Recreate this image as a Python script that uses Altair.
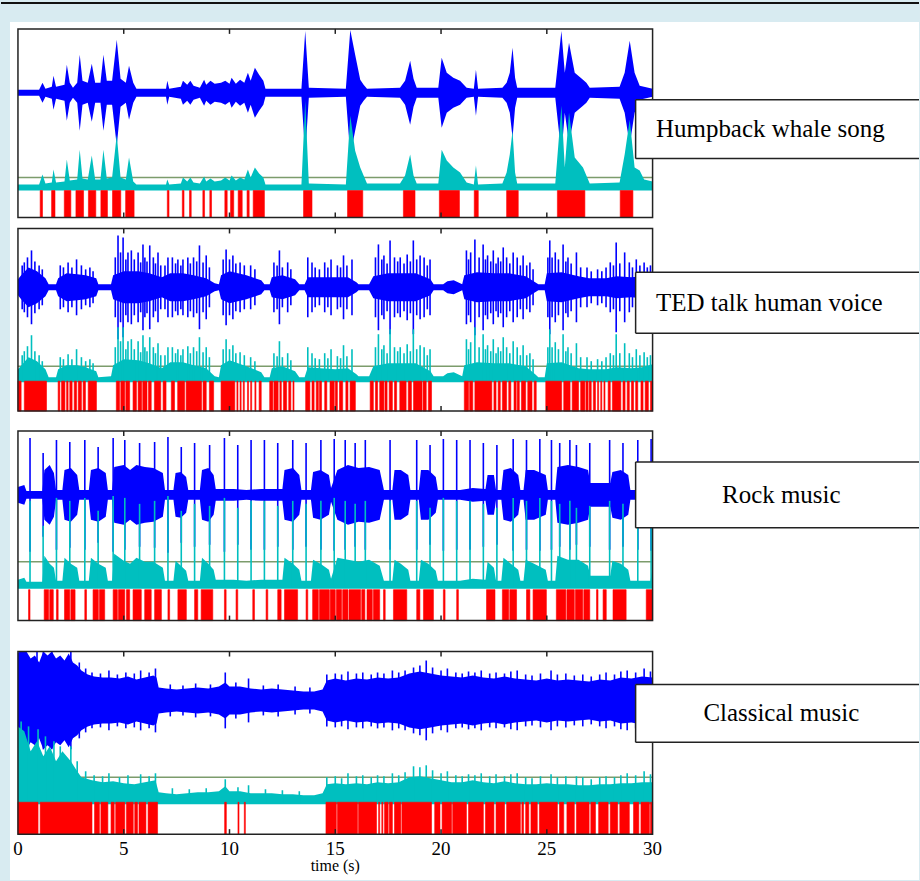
import altair as alt
import pandas as pd

# ---------------- data ----------------
TIME_TICKS = [0, 5, 10, 15, 20, 25, 30]
X_TITLE = "time (s)"
LABELS = ["Humpback whale song", "TED talk human voice", "Rock music", "Classical music"]

# each waveform: [time s, half amplitude]; envelope: [time s, height]; onsets: [start s, end s]
WHALE_WAVE = [[0,3],[1.0,3],[1.16,10],[1.3,4],[1.6,6],[1.68,17],[1.8,6],[2.2,8],[2.31,28],[2.45,10],[2.6,5],[2.8,10],[2.92,38],[3.05,12],[3.3,10],[3.49,29],[3.65,10],[3.9,10],[4.04,38],[4.2,12],[4.45,12],[4.67,53],[4.85,14],[5.1,10],[5.25,27],[5.45,10],[5.6,4],[7.0,4],[7.06,12],[7.15,4],[7.7,6],[7.8,12],[8.0,8],[8.15,12],[8.3,7],[8.6,5],[8.8,13],[8.9,8],[9.1,12],[9.3,9],[9.6,10],[9.8,12],[10.0,9],[10.1,15],[10.3,9],[10.5,13],[10.7,10],[10.87,20],[11.0,12],[11.2,25],[11.4,18],[11.6,12],[11.7,4],[13.4,4],[13.58,62],[13.75,5],[15.5,4],[15.71,63],[15.94,38],[16.18,13],[16.34,8],[16.5,4],[18.06,5],[18.3,12],[18.54,32],[18.7,14],[18.85,5],[19.87,5],[20.03,35],[20.27,20],[20.58,15],[20.9,12],[21.21,5],[21.55,4],[21.65,23],[21.75,4],[22.9,5],[23.1,10],[23.25,20],[23.38,45],[23.5,15],[23.6,5],[25.4,5],[25.69,62],[25.85,20],[26.05,50],[26.32,20],[26.71,13],[26.87,10],[27.03,5],[28.44,6],[28.68,20],[28.92,52],[29.15,20],[29.39,7],[30,4]]
WHALE_ENV = [[0,3],[1.0,3],[1.16,13],[1.3,4],[1.6,5],[1.68,18],[1.8,5],[2.2,6],[2.31,28],[2.45,7],[2.8,8],[2.92,38],[3.05,9],[3.3,8],[3.49,32],[3.65,8],[3.9,8],[4.04,38],[4.2,9],[4.45,10],[4.67,53],[4.85,10],[5.1,8],[5.25,30],[5.45,6],[5.6,3],[7.0,3],[7.06,8],[7.15,3],[7.7,4],[7.8,10],[8.0,6],[8.15,10],[8.3,5],[8.6,4],[8.8,11],[8.9,6],[9.1,9],[9.3,6],[9.6,7],[9.8,10],[10.0,7],[10.1,12],[10.3,7],[10.5,10],[10.7,8],[10.87,18],[11.0,10],[11.2,20],[11.4,14],[11.6,10],[11.7,3],[13.4,3],[13.58,87],[13.75,4],[15.5,3],[15.71,72],[15.94,37],[16.18,20],[16.34,12],[16.5,4],[18.06,4],[18.3,12],[18.54,33],[18.7,12],[18.85,4],[19.87,4],[20.03,38],[20.27,27],[20.58,20],[20.9,15],[21.21,5],[21.55,3],[21.65,22],[21.75,3],[22.9,4],[23.1,15],[23.25,33],[23.38,57],[23.5,15],[23.6,4],[25.4,4],[25.69,82],[25.85,20],[26.05,75],[26.32,30],[26.71,20],[26.87,12],[27.03,4],[28.44,5],[28.68,33],[28.92,68],[29.15,20],[29.39,17],[29.6,8],[30,6]]
WHALE_WAVE_SPIKES = []
WHALE_ENV_SPIKES = []
WHALE_ON = [[1.05,1.16],[1.59,1.75],[2.19,2.5],[2.74,3.1],[3.33,3.68],[3.92,4.23],[4.47,4.86],[5.09,5.49],[7.06,7.14],[7.77,7.85],[8.11,8.19],[8.74,8.82],[9.07,9.15],[9.78,9.89],[10.05,10.2],[10.41,10.6],[10.83,10.93],[11.12,11.65],[13.5,13.9],[15.58,16.3],[18.22,18.77],[19.92,20.87],[21.57,21.76],[23.1,23.65],[25.5,26.8],[28.47,29.07]]

TED_WAVE = [[0,8],[0.15,12],[0.5,20],[0.9,16],[1.3,9],[1.45,3],[1.8,3],[1.9,9],[2.3,14],[2.8,13],[3.2,12],[3.7,9],[3.8,3],[4.4,3],[4.5,12],[5.0,16],[5.7,16],[6.2,14],[6.8,10],[7.2,14],[7.8,14],[8.3,12],[8.9,9],[9.3,4],[9.5,3],[9.6,12],[10.0,16],[10.8,12],[11.5,7],[11.65,3],[11.9,3],[12.0,10],[12.5,12],[13.1,8],[13.3,3],[13.55,3],[13.7,10],[14.3,10],[15.0,10],[15.6,10],[16.0,5],[16.1,3],[16.6,3],[16.8,11],[17.5,14],[18.2,14],[18.8,14],[19.5,8],[19.65,3],[20.1,3],[20.3,6],[20.6,7],[20.9,4],[21.0,3],[21.1,12],[21.7,15],[22.5,14],[23.2,14],[24.0,11],[24.45,5],[24.6,3],[24.9,3],[25.0,14],[25.7,15],[26.5,11],[27.0,9],[27.8,9],[28.3,11],[29.0,10],[29.5,11],[30,11]]
TED_ENV = [[0,10],[0.5,22],[0.9,18],[1.3,10],[1.45,2],[1.8,2],[1.9,10],[2.3,14],[2.8,14],[3.2,12],[3.7,8],[3.8,2],[4.4,3],[4.5,14],[5.0,20],[5.7,19],[6.2,16],[6.8,11],[7.2,17],[7.8,17],[8.3,14],[8.9,11],[9.3,3],[9.5,2],[9.6,14],[10.0,19],[10.8,13],[11.5,7],[11.65,2],[11.9,2],[12.0,11],[12.5,13],[13.1,8],[13.3,2],[13.55,2],[13.7,12],[14.3,11],[15.0,10],[15.6,11],[16.0,5],[16.1,3],[16.6,3],[16.8,13],[17.5,16],[18.2,16],[18.8,16],[19.5,8],[19.65,3],[20.1,3],[20.3,6],[20.6,7],[20.9,4],[21.0,3],[21.1,14],[21.7,17],[22.5,16],[23.2,16],[24.0,13],[24.45,5],[24.6,2],[24.9,2],[25.0,16],[25.7,17],[26.5,11],[27.0,10],[27.8,10],[28.3,12],[29.0,11],[29.5,12],[30,15]]
TED_WAVE_SPIKES = [[0.2,22],[0.3,25],[0.45,30],[0.64,37],[0.8,26],[1.0,22],[1.15,18],[2.0,22],[2.15,20],[2.37,25],[2.55,20],[2.77,28],[3.0,22],[3.2,18],[3.4,20],[3.55,16],[4.6,30],[4.73,52],[4.85,35],[4.97,50],[5.1,28],[5.2,35],[5.36,37],[5.5,28],[5.68,35],[5.8,25],[5.91,43],[6.0,30],[6.1,26],[6.23,42],[6.4,30],[6.5,24],[6.62,35],[6.75,22],[6.95,22],[7.09,30],[7.3,30],[7.45,24],[7.56,28],[7.7,22],[7.8,28],[8.03,30],[8.15,24],[8.3,30],[8.45,26],[8.58,42],[8.75,25],[8.9,32],[9.05,20],[9.7,28],[9.84,38],[10.0,28],[10.16,32],[10.3,24],[10.5,25],[10.7,22],[11.0,22],[11.2,18],[12.1,25],[12.25,22],[12.36,37],[12.5,20],[12.75,25],[12.9,18],[13.7,30],[13.9,25],[14.05,20],[14.25,18],[14.5,25],[14.65,20],[14.8,28],[15.1,22],[15.25,20],[15.39,32],[15.55,22],[15.79,28],[16.9,30],[17.04,43],[17.2,28],[17.3,32],[17.45,24],[17.59,47],[17.8,30],[17.95,26],[18.07,30],[18.25,24],[18.4,33],[18.55,26],[18.69,47],[18.85,28],[19.01,32],[19.2,30],[19.35,22],[19.48,28],[21.2,37],[21.3,28],[21.4,35],[21.6,48],[21.8,30],[21.99,43],[22.1,28],[22.2,32],[22.35,26],[22.47,37],[22.6,24],[22.7,30],[22.82,26],[22.94,40],[23.1,30],[23.25,24],[23.41,35],[23.6,30],[23.75,22],[23.88,32],[24.05,22],[24.2,25],[24.35,18],[25.05,30],[25.14,47],[25.25,30],[25.4,35],[25.55,28],[25.77,43],[25.9,26],[26.0,30],[26.15,24],[26.4,35],[26.6,20],[26.9,20],[27.1,16],[27.4,18],[27.6,16],[27.8,20],[28.0,25],[28.15,22],[28.28,45],[28.45,24],[28.68,35],[28.9,25],[29.05,20],[29.23,28],[29.4,22],[29.6,25],[29.75,20],[29.9,22]]
TED_ENV_SPIKES = [[0.2,24],[0.3,28],[0.45,33],[0.64,44],[0.8,28],[1.0,24],[1.15,18],[2.0,22],[2.15,20],[2.37,25],[2.55,20],[2.77,30],[3.0,22],[3.2,18],[3.4,20],[3.55,16],[4.6,32],[4.73,52],[4.85,38],[4.97,52],[5.1,30],[5.2,38],[5.36,40],[5.5,30],[5.68,38],[5.8,27],[5.91,44],[6.0,32],[6.1,28],[6.23,42],[6.4,32],[6.5,26],[6.62,36],[6.75,24],[6.95,24],[7.09,32],[7.3,32],[7.45,26],[7.56,30],[7.7,24],[7.8,30],[8.03,33],[8.15,26],[8.3,32],[8.45,28],[8.58,42],[8.75,27],[8.9,32],[9.05,22],[9.7,30],[9.84,40],[10.0,30],[10.16,34],[10.3,26],[10.5,27],[10.7,24],[11.0,22],[11.2,18],[12.1,26],[12.25,23],[12.36,38],[12.5,22],[12.75,26],[12.9,19],[13.7,32],[13.9,26],[14.05,21],[14.25,20],[14.5,26],[14.65,21],[14.8,30],[15.1,23],[15.25,21],[15.39,34],[15.55,23],[15.79,30],[16.9,32],[17.04,45],[17.2,30],[17.3,34],[17.45,26],[17.59,50],[17.8,32],[17.95,28],[18.07,32],[18.25,26],[18.4,35],[18.55,28],[18.69,50],[18.85,30],[19.01,34],[19.2,32],[19.35,24],[19.48,30],[21.2,40],[21.3,30],[21.4,37],[21.6,52],[21.8,32],[21.99,45],[22.1,30],[22.2,34],[22.35,28],[22.47,40],[22.6,26],[22.7,32],[22.82,28],[22.94,42],[23.1,32],[23.25,26],[23.41,38],[23.6,32],[23.75,24],[23.88,34],[24.05,24],[24.2,26],[24.35,20],[25.05,32],[25.14,50],[25.25,32],[25.4,37],[25.55,30],[25.77,45],[25.9,28],[26.0,32],[26.15,26],[26.4,36],[26.6,22],[26.9,22],[27.1,18],[27.4,20],[27.6,18],[27.8,22],[28.0,26],[28.15,24],[28.28,45],[28.45,26],[28.68,36],[28.9,26],[29.05,22],[29.23,30],[29.4,24],[29.6,27],[29.75,22],[29.9,24]]
TED_ON = [[0.0,0.15],[0.3,1.35],[1.9,1.98],[2.06,2.22],[2.3,2.37],[2.45,2.56],[2.66,2.77],[2.85,3.0],[3.08,3.19],[3.32,3.71],[4.65,4.8],[4.86,5.05],[5.1,5.28],[5.44,5.6],[5.68,5.85],[5.9,6.1],[6.17,6.3],[6.45,6.75],[6.86,7.0],[7.25,7.4],[7.55,7.88],[7.95,8.68],[8.75,8.9],[9.05,9.25],[9.6,10.25],[10.35,10.4],[10.5,10.55],[10.65,10.7],[10.85,10.9],[11.0,11.05],[11.2,11.25],[11.4,11.5],[11.9,12.05],[12.1,12.3],[12.38,12.45],[12.55,12.7],[12.8,12.9],[13.0,13.05],[13.6,13.8],[13.9,14.0],[14.1,14.2],[14.25,14.35],[14.5,14.6],[14.75,14.95],[15.0,15.1],[15.2,15.35],[15.5,15.6],[15.7,15.95],[16.65,16.8],[16.9,17.0],[17.1,17.3],[17.35,17.45],[17.55,17.7],[17.8,17.9],[18.05,18.35],[18.45,18.6],[18.7,19.1],[19.15,19.3],[19.4,19.55],[21.1,21.3],[21.35,21.5],[21.6,22.4],[22.5,22.6],[22.7,22.8],[22.9,23.1],[23.2,23.3],[23.45,23.55],[23.6,23.7],[23.8,24.0],[24.1,24.3],[24.4,24.5],[24.95,25.7],[25.8,26.1],[26.2,26.5],[26.6,26.8],[26.85,26.95],[27.0,27.1],[27.2,27.3],[27.4,27.45],[27.55,27.6],[27.7,27.75],[27.9,28.0],[28.1,28.5],[28.6,28.7],[28.8,28.9],[29.0,29.1],[29.2,29.3],[29.45,29.55],[29.65,29.8],[29.9,30.0]]

ROCK_WAVE = [[0,8],[0.3,10],[0.4,4],[1.15,4],[1.25,25],[1.5,30],[1.7,22],[1.8,5],[2.1,5],[2.2,25],[2.5,27],[2.8,20],[2.9,5],[3.35,5],[3.45,25],[3.8,27],[4.15,22],[4.25,5],[4.45,5],[4.55,28],[5.0,30],[5.3,25],[5.6,30],[6.0,28],[6.4,27],[6.85,22],[6.95,5],[7.35,5],[7.45,22],[7.7,23],[7.95,18],[8.05,5],[8.6,5],[8.7,25],[9.0,27],[9.25,20],[9.35,6],[10.2,6],[10.8,5],[11.5,6],[12.5,6],[12.6,25],[13.0,27],[13.3,20],[13.4,5],[13.85,5],[13.95,23],[14.3,25],[14.7,20],[14.8,7],[15.1,25],[15.6,30],[16.1,27],[16.6,28],[17.1,25],[17.3,5],[17.7,5],[17.8,25],[18.1,25],[18.45,20],[18.55,5],[18.95,5],[19.05,25],[19.4,25],[19.75,18],[19.85,5],[20.9,5],[21.5,7],[22.1,6],[22.2,20],[22.5,20],[22.6,5],[22.85,5],[22.95,25],[23.3,27],[23.65,20],[23.75,5],[23.9,5],[24.0,25],[24.4,25],[24.95,20],[25.05,5],[25.4,5],[25.5,28],[26.0,30],[26.5,28],[26.95,25],[27.05,12],[27.5,12],[28.0,12],[28.1,23],[28.5,25],[28.85,20],[28.95,5],[29.9,5],[30,8]]
ROCK_ENV = [[0,6],[0.3,8],[0.4,4],[1.15,4],[1.25,30],[1.5,22],[1.7,18],[1.8,5],[2.1,5],[2.2,28],[2.5,22],[2.8,18],[2.9,5],[3.35,5],[3.45,28],[3.8,22],[4.15,18],[4.25,5],[4.45,5],[4.55,32],[5.0,25],[5.3,22],[5.6,28],[6.0,24],[6.4,24],[6.85,18],[6.95,5],[7.35,5],[7.45,25],[7.7,20],[7.95,15],[8.05,5],[8.6,5],[8.7,28],[9.0,22],[9.25,16],[9.35,6],[10.2,6],[10.8,5],[11.5,6],[12.5,6],[12.6,28],[13.0,22],[13.3,16],[13.4,5],[13.85,5],[13.95,26],[14.3,22],[14.7,16],[14.8,7],[15.1,28],[15.6,26],[16.1,24],[16.6,26],[17.1,20],[17.3,5],[17.7,5],[17.8,26],[18.1,22],[18.45,16],[18.55,5],[18.95,5],[19.05,26],[19.4,22],[19.75,15],[19.85,5],[20.9,5],[21.5,7],[22.1,6],[22.2,24],[22.5,18],[22.6,5],[22.85,5],[22.95,28],[23.3,22],[23.65,16],[23.75,5],[23.9,5],[24.0,26],[24.4,22],[24.95,16],[25.05,5],[25.4,5],[25.5,30],[26.0,26],[26.5,26],[26.95,20],[27.05,10],[27.5,10],[28.0,10],[28.1,25],[28.5,22],[28.85,16],[28.95,5],[29.9,5],[30,18]]
ROCK_WAVE_SPIKES = [[0.57,57],[1.19,42],[1.82,55],[2.45,53],[3.16,55],[3.79,48],[4.5,57],[5.05,55],[5.75,52],[6.46,53],[7.09,58],[7.72,48],[8.35,52],[9.06,50],[9.76,57],[10.39,50],[11.02,55],[11.65,55],[12.28,52],[12.99,55],[13.62,52],[14.32,55],[14.95,56],[15.47,55],[15.94,52],[16.42,55],[17.59,55],[18.85,55],[19.48,50],[20.11,56],[20.74,55],[21.37,55],[22.0,52],[22.64,50],[23.41,56],[24.04,55],[24.67,56],[25.22,55],[25.61,52],[26.09,55],[26.4,50],[27.03,52],[27.97,55],[28.6,52],[29.3,55],[29.93,56]]
ROCK_ENV_SPIKES = [[0.57,85],[1.19,60],[1.82,88],[2.45,85],[3.16,88],[3.79,75],[4.5,90],[5.05,88],[5.75,82],[6.46,85],[7.09,90],[7.72,75],[8.35,82],[9.06,80],[9.76,88],[10.39,78],[11.02,85],[11.65,85],[12.28,80],[12.99,85],[13.62,82],[14.32,85],[14.95,88],[15.47,85],[15.94,82],[16.42,85],[17.59,85],[18.85,85],[19.48,78],[20.11,88],[20.74,85],[21.37,85],[22.0,82],[22.64,78],[23.41,88],[24.04,85],[24.67,88],[25.22,85],[25.61,82],[26.09,85],[26.4,78],[27.03,80],[27.97,85],[28.6,82],[29.3,85],[29.93,70]]
ROCK_ON = [[0.5,0.57],[1.24,1.45],[1.5,1.67],[1.82,1.9],[2.2,2.45],[2.5,2.7],[3.16,3.24],[3.55,3.8],[3.85,4.1],[4.5,4.7],[4.75,5.05],[5.13,5.28],[5.44,5.83],[5.99,6.3],[6.46,6.78],[7.09,7.17],[7.56,7.96],[8.35,8.5],[8.66,9.21],[9.76,9.84],[10.31,10.39],[11.1,11.18],[11.73,11.81],[12.28,12.44],[12.6,13.22],[13.62,13.7],[13.93,14.2],[14.25,14.72],[14.76,15.0],[15.05,15.3],[15.35,15.6],[15.65,16.2],[16.25,16.4],[16.5,16.75],[16.8,17.1],[17.28,17.36],[17.75,18.38],[18.85,19.0],[19.17,19.64],[20.11,20.19],[20.74,20.82],[22.15,22.55],[22.9,23.2],[23.25,23.57],[24.04,24.2],[24.35,24.98],[25.45,25.9],[25.95,26.3],[26.35,26.7],[26.75,27.03],[27.35,27.42],[27.66,27.81],[28.13,28.75],[29.7,30.0]]

CLASS_WAVE = [[0,48],[0.2,49],[0.4,49],[0.6,42],[0.8,45],[1.0,38],[1.2,49],[1.4,45],[1.6,49],[1.8,42],[2.0,45],[2.2,40],[2.4,47],[2.6,38],[2.8,35],[3.0,30],[3.3,26],[3.6,24],[4.0,23],[4.4,23],[4.8,22],[5.2,24],[5.6,21],[6.0,23],[6.4,25],[6.55,23],[6.65,13],[7.0,12],[7.5,11],[8.0,12],[8.5,13],[9.0,12],[9.5,14],[9.8,18],[10.0,14],[10.5,14],[11.0,12],[11.5,11],[12.0,12],[12.5,11],[13.0,10],[13.5,9],[14.0,9],[14.4,11],[14.6,20],[15.0,22],[15.5,20],[16.0,22],[16.5,21],[17.0,23],[17.5,22],[18.0,23],[18.5,27],[19.0,29],[19.5,27],[20.0,25],[20.5,24],[21.0,23],[21.5,25],[22.0,23],[22.5,22],[23.0,24],[23.5,22],[24.0,21],[24.5,20],[25.0,22],[25.5,20],[26.0,21],[26.5,20],[27.0,19],[27.5,21],[28.0,20],[28.5,23],[29.0,22],[29.5,24],[30,23]]
CLASS_ENV = [[0,75],[0.3,70],[0.6,50],[0.9,60],[1.2,45],[1.5,55],[1.8,40],[2.1,50],[2.5,40],[2.8,30],[3.0,24],[3.5,21],[4.0,19],[4.5,20],[5.0,18],[5.5,17],[6.0,19],[6.5,21],[6.65,9],[7.0,8],[7.5,7],[8.0,8],[8.5,9],[9.0,9],[9.5,10],[9.8,15],[10.0,10],[10.5,10],[11.0,8],[11.5,8],[12.0,8],[12.5,7],[13.0,7],[13.5,6],[14.0,6],[14.4,8],[14.6,17],[15.0,18],[15.5,17],[16.0,18],[16.5,17],[17.0,19],[17.5,18],[18.0,19],[18.5,24],[19.0,25],[19.5,23],[20.0,21],[20.5,19],[21.0,19],[21.5,21],[22.0,19],[22.5,18],[23.0,20],[23.5,18],[24.0,17],[24.5,17],[25.0,18],[25.5,17],[26.0,17],[26.5,16],[27.0,16],[27.5,17],[28.0,17],[28.5,18],[29.0,18],[29.5,19],[30,19]]
CLASS_WAVE_SPIKES = [[0.1,49],[0.3,49],[0.9,49],[1.2,49],[1.6,49],[2.5,49],[2.9,38],[3.2,32],[3.5,28],[3.9,27],[4.3,30],[4.7,26],[5.1,28],[5.5,27],[5.8,30],[6.2,28],[6.5,32],[7.2,16],[7.8,15],[8.4,17],[9.1,16],[9.8,28],[10.3,18],[10.9,22],[11.6,15],[12.3,16],[13.1,14],[13.8,13],[14.6,26],[15.0,27],[15.3,26],[15.6,29],[16.0,27],[16.3,28],[16.7,26],[17.0,28],[17.3,27],[17.7,30],[18.0,28],[18.3,30],[18.7,33],[19.0,35],[19.3,40],[19.6,33],[20.0,30],[20.3,32],[20.7,28],[21.0,27],[21.3,29],[21.6,28],[21.9,30],[22.3,27],[22.6,28],[23.0,27],[23.3,29],[23.6,30],[24.0,26],[24.3,25],[24.7,27],[25.2,30],[25.5,26],[25.9,27],[26.3,25],[26.7,26],[27.1,24],[27.5,26],[27.8,28],[28.2,26],[28.5,29],[28.8,30],[29.2,28],[29.6,32],[29.9,29]]
CLASS_ENV_SPIKES = [[0.15,80],[0.5,75],[0.95,72],[1.3,65],[1.7,60],[2.0,55],[2.5,55],[2.8,40],[3.2,30],[3.6,26],[4.0,25],[4.3,28],[4.8,24],[5.2,26],[5.8,27],[6.2,25],[6.5,28],[7.3,13],[8.1,12],[8.9,13],[9.8,22],[10.4,14],[10.9,16],[11.7,12],[12.5,11],[13.3,10],[14.6,24],[15.0,25],[15.3,23],[15.6,28],[16.0,25],[16.3,26],[16.7,24],[17.0,26],[17.3,25],[17.7,28],[18.0,26],[18.3,29],[18.7,35],[19.0,34],[19.3,36],[19.6,31],[20.0,28],[20.3,30],[20.7,26],[21.0,25],[21.3,27],[21.6,26],[21.9,28],[22.3,25],[22.6,27],[23.0,25],[23.3,27],[23.6,28],[24.0,24],[24.3,23],[24.7,25],[25.2,27],[25.5,24],[25.9,25],[26.4,25],[26.7,24],[27.1,22],[27.5,24],[27.8,25],[28.2,24],[28.5,26],[28.8,28],[29.2,26],[29.6,30],[29.9,27]]
CLASS_ON = [[0.0,0.95],[1.05,3.5],[3.62,3.85],[3.92,4.25],[4.4,4.55],[4.62,5.05],[5.13,5.45],[5.52,5.65],[5.72,6.05],[6.15,6.6],[9.77,9.85],[10.4,10.45],[10.7,10.75],[14.56,15.05],[15.1,16.05],[16.1,16.95],[17.05,17.1],[17.2,17.25],[17.33,17.5],[17.55,17.7],[17.8,18.1],[18.15,19.55],[19.7,19.95],[20.05,20.5],[20.55,21.2],[21.3,22.0],[22.1,22.5],[22.6,23.0],[23.1,23.75],[23.82,23.9],[24.0,24.15],[24.25,24.55],[24.65,25.5],[25.6,25.8],[25.95,26.3],[26.4,27.0],[27.08,27.3],[27.45,27.9],[28.0,28.35],[28.45,28.9],[29.1,29.35],[29.45,29.85],[29.9,30.0]]

SERIES = [
    (WHALE_WAVE, WHALE_ENV, WHALE_WAVE_SPIKES, WHALE_ENV_SPIKES, WHALE_ON),
    (TED_WAVE, TED_ENV, TED_WAVE_SPIKES, TED_ENV_SPIKES, TED_ON),
    (ROCK_WAVE, ROCK_ENV, ROCK_WAVE_SPIKES, ROCK_ENV_SPIKES, ROCK_ON),
    (CLASS_WAVE, CLASS_ENV, CLASS_WAVE_SPIKES, CLASS_ENV_SPIKES, CLASS_ON),
]

# ---------------- layout (pixel units from top of first panel) ----------------
H = 807
W = 636
LAYOUT = [
    dict(top=0,   h=189, c=125, b=30, g=40, r=27, box=(71, 130),  tx=754),
    dict(top=200, h=183, c=124, b=32, g=45, r=30, box=(44, 105),  tx=753),
    dict(top=403, h=190, c=126, b=35, g=59, r=31, box=(31, 97),   tx=765),
    dict(top=624, h=183, c=134, b=33, g=57, r=32, box=(33, 91),   tx=765),
]

BLUE = "#0000ff"
TEAL = "#00bfbf"
RED = "#ff0000"
GREEN = "#7c9c6c"
FRAME = "#222222"
SERIF = "Liberation Serif"

wave_rows, env_rows, wsp_rows, esp_rows, on_rows = [], [], [], [], []
frame_rows, tick_rows, box_rows = [], [], []
for i, ((wave, env, wsp, esp, on), L) in enumerate(zip(SERIES, LAYOUT)):
    bottom = L["top"] + L["h"]
    mid = bottom - L["c"]
    base = bottom - L["b"]
    for t, a in wave:
        wave_rows.append(dict(p=i, t=t, y1=mid - a, y2=mid + a))
    for t, v in env:
        env_rows.append(dict(p=i, t=t, y1=base - v, y2=base + 3))
    for t, a in wsp:
        wsp_rows.append(dict(p=i, t=t, y1=mid - a, y2=mid + a))
    for t, v in esp:
        esp_rows.append(dict(p=i, t=t, y1=base - v, y2=base + 2))
    for s, e in on:
        on_rows.append(dict(p=i, s=s, e=e, y1=bottom - L["r"], y2=bottom))
    frame_rows.append(dict(p=i, x0=TIME_TICKS[0], x1=TIME_TICKS[-1], y1=L["top"], y2=bottom,
                           g=bottom - L["g"]))
    for tk in TIME_TICKS[1:-1]:
        tick_rows.append(dict(p=i, t=tk, y1=L["top"], y2=L["top"] + 5))
        tick_rows.append(dict(p=i, t=tk, y1=bottom - 5, y2=bottom))
    box_rows.append(dict(p=i, label=LABELS[i], y1=L["top"] + L["box"][0], y2=L["top"] + L["box"][1],
                         yc=L["top"] + (L["box"][0] + L["box"][1]) / 2, tx=L["tx"]))

wave_df = pd.DataFrame(wave_rows)
env_df = pd.DataFrame(env_rows)
wsp_df = pd.DataFrame(wsp_rows)
esp_df = pd.DataFrame(esp_rows)
on_df = pd.DataFrame(on_rows)
frame_df = pd.DataFrame(frame_rows)
tick_df = pd.DataFrame(tick_rows)
box_df = pd.DataFrame(box_rows)
lab_df = pd.DataFrame({"t": TIME_TICKS, "lab": [str(v) for v in TIME_TICKS]})
title_df = pd.DataFrame({"txt": [X_TITLE]})

xs = alt.Scale(domain=[0, 30], nice=False, zero=False)
ys = alt.Scale(domain=[0, H], nice=False, zero=False, reverse=True)

def X(f):
    return alt.X(f, type="quantitative", scale=xs, axis=None)

def Y(f):
    return alt.Y(f, type="quantitative", scale=ys, axis=None)

one = pd.DataFrame({"k": [0]})

bg = alt.Chart(one).mark_rect(color="#d8ebf1", clip=False).encode(
    x=alt.value(-17), x2=alt.value(W + 267), y=alt.value(-28), y2=alt.value(H + 46))
white = alt.Chart(one).mark_rect(color="#ffffff", clip=False).encode(
    x=alt.value(-8), x2=alt.value(W + 267), y=alt.value(-7), y2=alt.value(H + 46))
topline = alt.Chart(one).mark_rule(color="#111111", strokeWidth=2, clip=False).encode(
    x=alt.value(-17), x2=alt.value(W + 267), y=alt.value(-26))

blue_area = alt.Chart(wave_df).mark_area(color=BLUE, interpolate="linear").encode(
    x=X("t"), y=Y("y1"), y2="y2", detail="p:N")
blue_sp = alt.Chart(wsp_df).mark_rule(color=BLUE, strokeWidth=1.6).encode(
    x=X("t"), y=Y("y1"), y2="y2")
green = alt.Chart(frame_df).mark_rule(color=GREEN, strokeWidth=1.5).encode(
    x=X("x0"), x2="x1", y=Y("g"))
teal_area = alt.Chart(env_df).mark_area(color=TEAL, interpolate="linear").encode(
    x=X("t"), y=Y("y1"), y2="y2", detail="p:N")
teal_sp = alt.Chart(esp_df).mark_rule(color=TEAL, strokeWidth=1.6).encode(
    x=X("t"), y=Y("y1"), y2="y2")
red = alt.Chart(on_df).mark_rect(color=RED, stroke=RED, strokeWidth=0.6).encode(
    x=X("s"), x2="e", y=Y("y1"), y2="y2")
ticks = alt.Chart(tick_df).mark_rule(color=FRAME, strokeWidth=1.5).encode(
    x=X("t"), y=Y("y1"), y2="y2")
frames = alt.Chart(frame_df).mark_rect(filled=False, color=FRAME, strokeWidth=1.5).encode(
    x=X("x0"), x2="x1", y=Y("y1"), y2="y2")

xlabels = alt.Chart(lab_df).mark_text(font=SERIF, fontSize=19, color="#000000",
                                      align="center", baseline="middle", clip=False).encode(
    x=X("t"), y=alt.value(H + 15), text="lab:N")
xtitle = alt.Chart(title_df).mark_text(font=SERIF, fontSize=16, color="#000000",
                                       align="center", baseline="middle", clip=False).encode(
    x=alt.value(W / 2), y=alt.value(H + 32), text="txt:N")

box_fill = alt.Chart(box_df).mark_rect(color="#ffffff", clip=False).encode(
    x=alt.value(619), x2=alt.value(W + 267), y=Y("y1"), y2="y2")
box_top = alt.Chart(box_df).mark_rule(color=FRAME, strokeWidth=1.5, clip=False).encode(
    x=alt.value(619), x2=alt.value(W + 267), y=Y("y1"))
box_bot = alt.Chart(box_df).mark_rule(color=FRAME, strokeWidth=1.5, clip=False).encode(
    x=alt.value(619), x2=alt.value(W + 267), y=Y("y2"))
box_left = alt.Chart(box_df).mark_rule(color=FRAME, strokeWidth=1.5, clip=False).encode(
    x=alt.value(619), y=Y("y1"), y2="y2")
box_text = alt.Chart(box_df).mark_text(font=SERIF, fontSize=25, color="#000000",
                                       align="center", baseline="middle", clip=False).encode(
    x=alt.X("tx:Q", scale=None), y=Y("yc"), text="label:N")

chart = alt.layer(
    bg, white, topline, blue_area, blue_sp, green, teal_area, teal_sp, red, ticks, frames,
    xlabels, xtitle, box_fill, box_top, box_bot, box_left, box_text
).properties(
    width=W, height=H, background="#d8ebf1", padding=0
).configure_view(strokeWidth=0)

chart.save("out.html", embed_options={"renderer": "svg", "actions": False})
